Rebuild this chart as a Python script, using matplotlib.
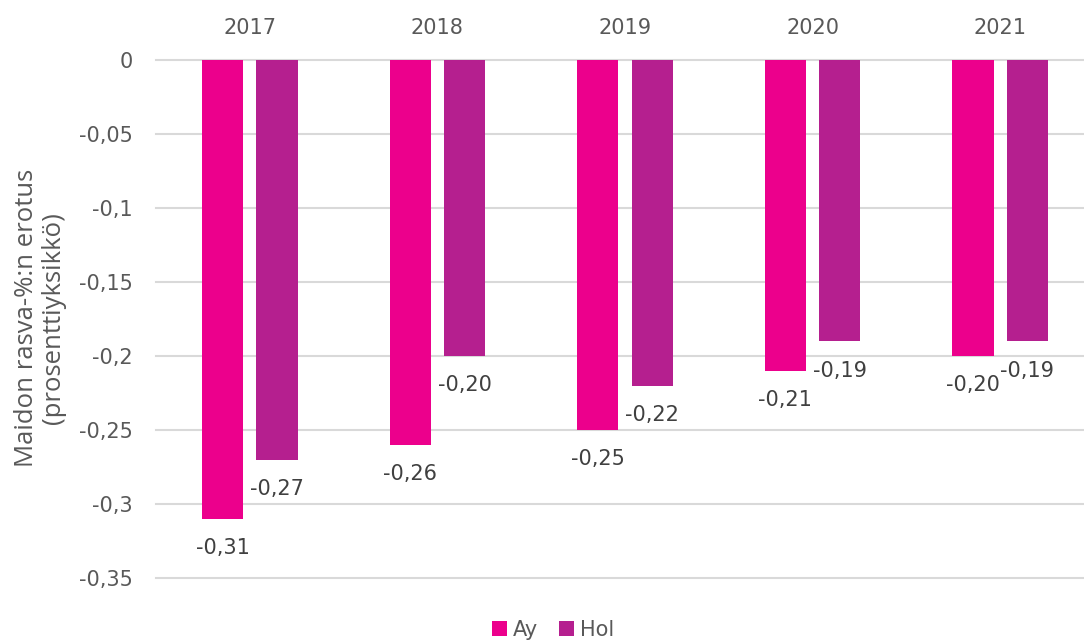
import matplotlib
matplotlib.use("Agg")
import matplotlib.pyplot as plt
import numpy as np

years = ["2017", "2018", "2019", "2020", "2021"]
ay = [-0.31, -0.26, -0.25, -0.21, -0.20]
hol = [-0.27, -0.20, -0.22, -0.19, -0.19]
series_names = ["Ay", "Hol"]
yticks = [0, -0.05, -0.1, -0.15, -0.2, -0.25, -0.3, -0.35]
ytick_labels = ["0", "-0,05", "-0,1", "-0,15", "-0,2", "-0,25", "-0,3", "-0,35"]

c_ay = "#EC008C"
c_hol = "#B51F8F"
tick_col = "#595959"
lab_col = "#404040"

W, H = 1084, 644
fig = plt.figure(figsize=(W / 100, H / 100), dpi=100)
left, right, top, bottom = 156, 1094, 60, 578
ax = fig.add_axes([left / W, (H - bottom) / H, (right - left) / W, (bottom - top) / H])

x = np.arange(len(years))
bw = 0.22
off = 0.145
b1 = ax.bar(x - off, ay, bw, color=c_ay, label=series_names[0], zorder=3)
b2 = ax.bar(x + off, hol, bw, color=c_hol, label=series_names[1], zorder=3)

for bars, vals in ((b1, ay), (b2, hol)):
    for r, v in zip(bars, vals):
        ax.annotate(f"{v:.2f}".replace(".", ","), (r.get_x() + r.get_width() / 2, v),
                    xytext=(0, -14), textcoords="offset points", ha="center", va="top",
                    fontsize=15, color=lab_col, family="DejaVu Sans")

ax.set_xlim(-0.5, len(years) - 0.5)
ax.set_ylim(-0.35, 0)
ax.set_yticks(yticks)
ax.set_yticklabels(ytick_labels)
ax.set_xticks(x)
ax.set_xticklabels(years)
ax.xaxis.tick_top()
ax.tick_params(axis="x", length=0, pad=16, labelsize=15, labelcolor=tick_col)
ax.tick_params(axis="y", length=0, pad=17, labelsize=15, labelcolor=tick_col)
for s in ax.spines.values():
    s.set_visible(False)
ax.grid(axis="y", color="#D9D9D9", linewidth=1.5, zorder=0)
ax.set_axisbelow(True)
for gl in ax.get_ygridlines():
    gl.set_clip_on(False)

fig.text(40 / W, 1 - 318 / H, "Maidon rasva-%:n erotus\n(prosenttiyksikkö)", rotation=90,
         ha="center", va="center", fontsize=18.5, color=tick_col, family="Open Sans",
         linespacing=1.15, multialignment="center")

fig.legend(handles=[b1, b2], labels=series_names, loc="center", bbox_to_anchor=(553 / W, 1 - 630 / H),
           ncol=2, frameon=False, fontsize=15, labelcolor=tick_col, handlelength=0.7,
           handleheight=0.7, handletextpad=0.3, columnspacing=1.0)

fig.savefig("out.png", dpi=100)
